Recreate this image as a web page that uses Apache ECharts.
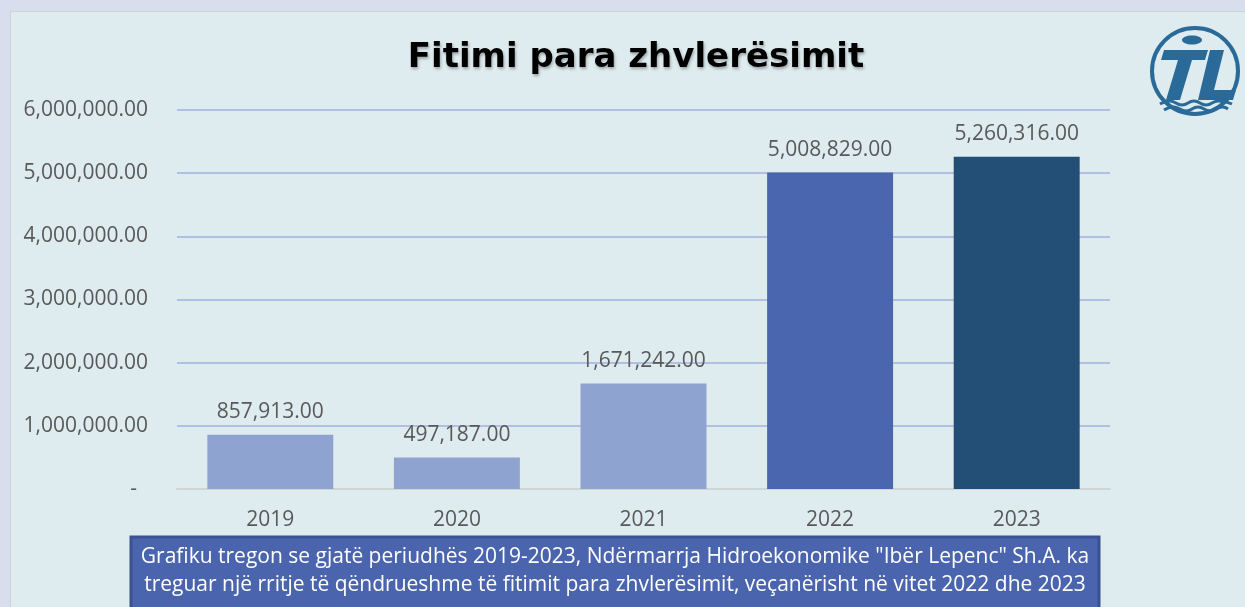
<!DOCTYPE html>
<html lang="sq">
<head>
    <meta charset="utf-8">
    <title>Fitimi para zhvlerësimit</title>
    <script src="https://cdn.jsdelivr.net/npm/echarts@6/dist/echarts.min.js"></script>
    <style type="text/css">
        html, body {
            margin: 0;
            padding: 0;
            background: #d9deee;
        }
        #panel {
            position: absolute;
            left: 10px;
            top: 11px;
            width: 1235px;
            height: 596px;
            background: #deebef;
            border-left: 1px solid #cfd3d6;
            border-top: 1px solid #cfd3d6;
        }
        #main {
            position: absolute;
            left: 0;
            top: 0;
            width: 1245px;
            height: 607px;
        }
    </style>
</head>
<body>
<div id="panel"></div>
<div id="main"></div>
<script type="text/javascript">
    // te dhenat
    const years = ['2019', '2020', '2021', '2022', '2023'];
    const values = [857913, 497187, 1671242, 5008829, 5260316];
    const barColors = ['#8fa3d0', '#8fa3d0', '#8fa3d0', '#4a66ae', '#234f77'];
    const yTicks = [0, 1000000, 2000000, 3000000, 4000000, 5000000, 6000000];
    const captionLines = [
        'Grafiku tregon se gjatë periudhës 2019-2023, Ndërmarrja Hidroekonomike "Ibër Lepenc" Sh.A. ka',
        'treguar një rritje të qëndrueshme të fitimit para zhvlerësimit, veçanërisht në vitet 2022 dhe 2023'
    ];

    function fmt(v) {
        return v.toLocaleString('en-US', {minimumFractionDigits: 2, maximumFractionDigits: 2});
    }

    const logoColor = '#2a6a98';
    const txtFont = 'Open Sans';
    let chart = echarts.init(document.getElementById('main'), null, {renderer: 'canvas'});

    chart.setOption({
        backgroundColor: 'transparent',
        animation: false,
        title: {
            text: 'Fitimi para zhvlerësimit',
            left: 631,
            top: 36,
            textAlign: 'center',
            textStyle: {
                fontFamily: 'DejaVu Sans',
                fontWeight: 'bold',
                fontSize: 34,
                color: '#000',
                textShadowColor: 'rgba(0,0,0,0.3)',
                textShadowBlur: 3,
                textShadowOffsetX: 1,
                textShadowOffsetY: 2
            }
        },
        grid: {left: 177, right: 135, top: 110, bottom: 118, containLabel: false},
        xAxis: {
            type: 'category',
            data: years,
            axisTick: {show: false},
            axisLine: {lineStyle: {color: '#cfd4d4', width: 2}},
            axisLabel: {color: '#595959', fontSize: 21, fontFamily: txtFont, margin: 21}
        },
        yAxis: {
            type: 'value',
            min: yTicks[0],
            max: yTicks[yTicks.length - 1],
            interval: 1000000,
            axisLine: {show: false},
            axisTick: {show: false},
            splitLine: {lineStyle: {color: '#b3bfe1', width: 2}},
            axisLabel: {
                color: '#595959',
                fontSize: 21,
                fontFamily: txtFont,
                margin: 29,
                formatter: function (v) {
                    return v === 0 ? '-  ' : fmt(v);
                }
            }
        },
        series: [{
            type: 'bar',
            barWidth: '67.5%',
            data: values.map(function (v, i) {
                return {value: v, itemStyle: {color: barColors[i]}};
            }),
            label: {
                show: true,
                position: 'top',
                distance: 12,
                color: '#595959',
                fontSize: 21,
                fontFamily: txtFont,
                formatter: function (p) {
                    return fmt(p.value);
                }
            }
        }],
        graphic: [
            {
                type: 'rect',
                shape: {x: 131, y: 537, width: 968, height: 80},
                style: {fill: '#4a65ad', stroke: '#3a5290', lineWidth: 3},
                z: 10
            },
            {
                type: 'text',
                x: 615,
                y: 557,
                z: 11,
                style: {
                    text: captionLines[0],
                    fill: '#fff',
                    fontSize: 21,
                    fontFamily: txtFont,
                    align: 'center',
                    verticalAlign: 'middle'
                }
            },
            {
                type: 'text',
                x: 615,
                y: 585,
                z: 11,
                style: {
                    text: captionLines[1],
                    fill: '#fff',
                    fontSize: 21,
                    fontFamily: txtFont,
                    align: 'center',
                    verticalAlign: 'middle'
                }
            },
            // logo
            {
                type: 'group',
                z: 12,
                children: [
                    {type: 'circle', shape: {cx: 1195, cy: 71, r: 43}, style: {fill: 'none', stroke: logoColor, lineWidth: 4}},
                    {type: 'ellipse', shape: {cx: 1192, cy: 40, rx: 10, ry: 4.5}, style: {fill: logoColor}},
                    {type: 'polygon', shape: {points: [[1164, 50], [1208, 50], [1205, 60], [1192, 60], [1180, 100], [1166, 100], [1178, 60], [1161, 60]]}, style: {fill: logoColor}},
                    {type: 'polygon', shape: {points: [[1210, 50], [1224, 50], [1214, 90], [1236, 90], [1233, 100], [1198, 100]]}, style: {fill: logoColor}},
                    {type: 'polyline', shape: {points: [[1160, 104], [1170, 101], [1182, 105], [1194, 101], [1206, 105], [1218, 101], [1232, 104]], smooth: 0.5}, style: {stroke: logoColor, lineWidth: 3, fill: 'none'}},
                    {type: 'polyline', shape: {points: [[1164, 110], [1174, 107], [1186, 111], [1198, 107], [1210, 111], [1222, 107], [1228, 109]], smooth: 0.5}, style: {stroke: logoColor, lineWidth: 3, fill: 'none'}}
                ]
            }
        ]
    });
</script>
</body>
</html>
